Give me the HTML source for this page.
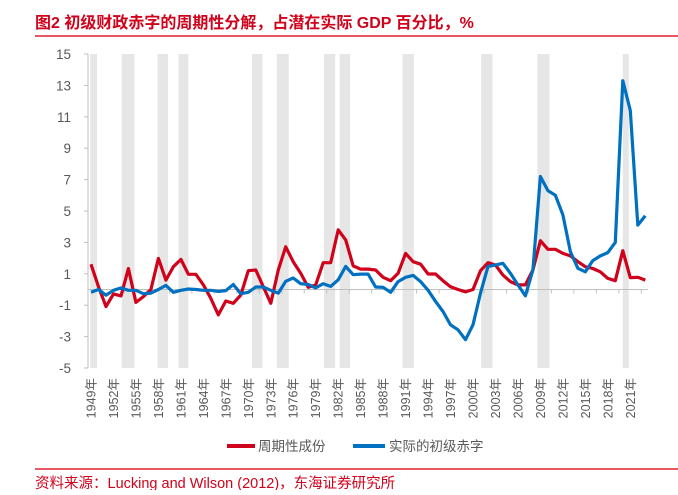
<!DOCTYPE html>
<html><head><meta charset="utf-8"><style>
body{margin:0;background:#fff;width:678px;height:490px;overflow:hidden;font-family:"Liberation Sans","Noto Sans CJK SC",sans-serif}
svg text{font-family:"Liberation Sans","Noto Sans CJK SC",sans-serif}
</style></head><body>
<svg id="chart" width="678" height="490">
<text x="35" y="28" fill="#d0021b" font-size="16" font-weight="bold">图2  初级财政赤字的周期性分解，占潜在实际 GDP 百分比，%</text>
<line x1="35" y1="36" x2="678" y2="36" stroke="#e0202e" stroke-width="1.5"/>
<g id="bands"></g><g id="axes"></g><g id="lines"></g>
<g>
<line x1="227" y1="446" x2="255" y2="446" stroke="#d0021b" stroke-width="4"/>
<text x="258" y="451" font-size="13.5" fill="#595959">周期性成份</text>
<line x1="353" y1="446" x2="385" y2="446" stroke="#0070c0" stroke-width="4"/>
<text x="389" y="451" font-size="13.5" fill="#595959">实际的初级赤字</text>
</g>
<line x1="35" y1="469" x2="678" y2="469" stroke="#e0202e" stroke-width="1.5"/>
<text x="35" y="488" font-size="14.5" fill="#d0021b">资料来源：Lucking and Wilson (2012)，东海证券研究所</text>
</svg>
<script>
const startYear = 1949;
const cyclical = [1.61,0.18,-1.09,-0.28,-0.41,1.34,-0.82,-0.45,0,1.98,0.6,1.45,1.92,0.97,0.97,0.29,-0.56,-1.62,-0.73,-0.88,-0.35,1.2,1.24,0.18,-0.88,1.24,2.72,1.77,1.03,0.14,0.29,1.71,1.71,3.8,3.16,1.5,1.3,1.3,1.24,
0.78,0.56,1.03,2.3,1.77,1.61,0.99,0.99,0.56,0.18,0,-0.15,0,1.2,1.71,1.56,0.92,0.5,0.29,0.29,1.24,3.11,2.56,2.56,2.3,2.14,1.77,1.45,1.34,1.13,0.71,0.56,2.47,0.75,0.78,0.6];
const actual = [-0.18,0,-0.36,-0.05,0.1,-0.05,-0.05,-0.27,-0.23,0,0.26,-0.18,-0.05,0.03,0,-0.05,-0.05,-0.12,-0.07,0.32,-0.27,-0.18,0.16,0.16,-0.05,-0.23,0.52,0.73,0.37,0.32,0.1,0.37,0.2,0.62,1.47,0.94,0.98,0.98,0.16,
0.14,-0.18,0.5,0.78,0.9,0.5,-0.05,-0.75,-1.4,-2.25,-2.57,-3.2,-2.25,-0.23,1.47,1.56,1.67,1.03,0.29,-0.4,1.24,7.2,6.3,6.0,4.75,2.4,1.35,1.13,1.84,2.14,2.35,3.0,13.3,11.4,4.1,4.7];
const yTicks = [15,13,11,9,7,5,3,1,-1,-3,-5];
const recessionStarts = [1948.9,1953.1,1957.9,1960.7,1970.5,1973.8,1980.1,1982.2,1990.6,2001.1,2008.6,2020.0];
const recessionEnds =   [1949.8,1954.8,1959.3,1962.0,1971.9,1975.4,1981.6,1983.6,1992.1,2002.6,2010.2,2020.8];
const NS="http://www.w3.org/2000/svg";
const X = yr => 91 + (yr - startYear) * 7.49;
const Y = v => 289.5 - v * 15.7;
function mk(tag, attrs, parent){const e=document.createElementNS(NS,tag);for(const k in attrs)e.setAttribute(k,attrs[k]);parent.appendChild(e);return e;}
const bands=document.getElementById('bands'), axes=document.getElementById('axes'), lines=document.getElementById('lines');
recessionStarts.forEach((s,i)=>{
  const r=mk('rect',{x:X(s),y:Y(15),width:X(recessionEnds[i])-X(s),height:Y(-5)-Y(15),fill:'#e6e6e6'},bands);
  
  
});
const ax=mk('line',{x1:88,y1:Y(15),x2:88,y2:Y(-5),stroke:'#bfbfbf','stroke-width':1},axes);


yTicks.forEach(t=>{
  mk('line',{x1:84,y1:Y(t),x2:88,y2:Y(t),stroke:'#bfbfbf'},axes);
  const tx=mk('text',{x:71,y:Y(t)+5,'text-anchor':'end','font-size':13.5,fill:'#595959'},axes);
  tx.textContent=t;
  
  
});
const xa=mk('line',{x1:88,y1:Y(0),x2:648,y2:Y(0),stroke:'#bfbfbf','stroke-width':1},axes);


for(let yr=startYear; yr<startYear+cyclical.length; yr+=3){
  mk('line',{x1:X(yr)+11,y1:Y(0),x2:X(yr)+11,y2:Y(0)+4,stroke:'#bfbfbf'},axes);
  const tx=mk('text',{x:0,y:0,'text-anchor':'end','font-size':12.5,fill:'#595959',transform:`translate(${X(yr)+4.5},378) rotate(-90)`},axes);
  tx.textContent=yr+'年';
  
  
}
function series(data,color,name){
  const d=data.map((v,i)=>(i?'L':'M')+X(startYear+i).toFixed(1)+' '+Y(v).toFixed(1)).join(' ');
  const p=mk('path',{d:d,fill:'none',stroke:color,'stroke-width':3.2,'stroke-linejoin':'round'},lines);
  
  
}
series(cyclical,'#d0021b','cyclical-line');
series(actual,'#0070c0','actual-deficit-line');
</script>
</body></html>
